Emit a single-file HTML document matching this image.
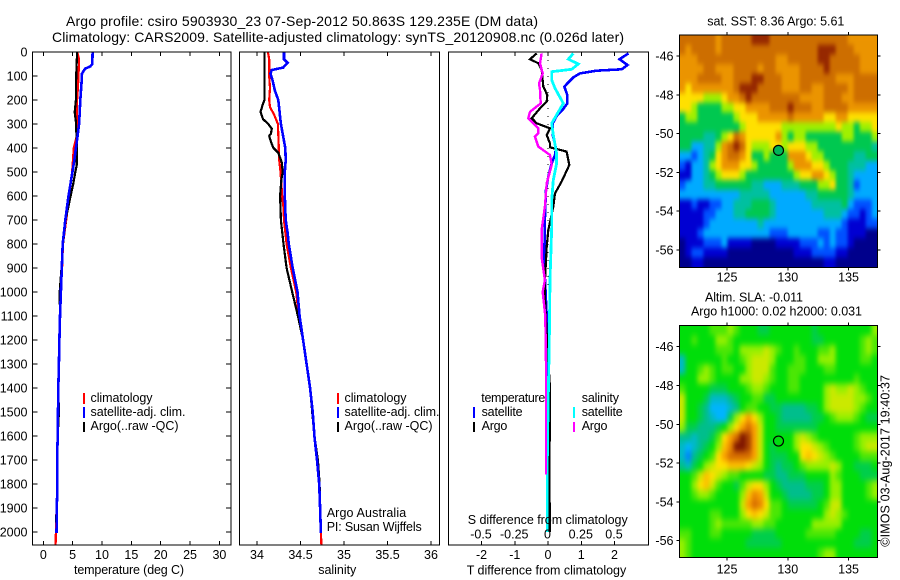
<!DOCTYPE html>
<html lang="en">
<head>
<meta charset="utf-8">
<title>Argo profile csiro 5903930_23</title>
<style>
html,body{margin:0;padding:0;background:#fff;}
svg{display:block;}
text{font-family:"Liberation Sans",Arial,sans-serif;font-size:12.5px;fill:#000;}
.title{font-size:14px;}
.box{fill:none;stroke:#000;stroke-width:1;shape-rendering:crispEdges;}
.tick{stroke:#000;stroke-width:1;shape-rendering:crispEdges;}
.mark{fill:none;stroke-linejoin:miter;shape-rendering:crispEdges;}
.key{shape-rendering:crispEdges;}
</style>
</head>
<body>
<svg id="chart" xmlns="http://www.w3.org/2000/svg" width="900" height="580" viewBox="0 0 900 580">
  <defs>
    <filter id="sstSoft" filterUnits="userSpaceOnUse" x="679" y="35" width="199" height="233" color-interpolation-filters="sRGB">
      <feGaussianBlur stdDeviation="1.6 2.6"/>
      <feComponentTransfer><feFuncA type="linear" slope="60"/></feComponentTransfer>
    </filter>
    <filter id="slaSoft" filterUnits="userSpaceOnUse" x="679" y="325" width="199" height="233" color-interpolation-filters="sRGB">
      <feGaussianBlur stdDeviation="2 3.2"/>
      <feComponentTransfer><feFuncA type="linear" slope="60"/></feComponentTransfer>
    </filter>
  </defs>
  <text class="title" x="66" y="26" textLength="472">Argo profile: csiro 5903930_23 07-Sep-2012 50.863S 129.235E (DM data)</text>
  <text class="title" x="52" y="42" textLength="572">Climatology: CARS2009. Satellite-adjusted climatology: synTS_20120908.nc (0.026d later)</text>

  <g id="heatmaps"></g>
  <g id="marks"></g>
  <g id="axes"></g>

  <text x="74" y="574" textLength="110">temperature (deg C)</text>
  <text x="318.3" y="574" textLength="38">salinity</text>
  <text x="466.7" y="574.5" textLength="159.5">T difference from climatology</text>
  <text x="467.7" y="524" textLength="160">S difference from climatology</text>

  <g>
    <rect class="key" x="83" y="393" width="2" height="11" fill="#f00"/>
    <rect class="key" x="83" y="407" width="2" height="11" fill="#00f"/>
    <rect class="key" x="83" y="422" width="2" height="10" fill="#000"/>
    <text x="90.5" y="402" textLength="62">climatology</text>
    <text x="90.5" y="416" textLength="95">satellite-adj. clim.</text>
    <text x="90.5" y="430" textLength="88">Argo(..raw -QC)</text>
  </g>
  <g>
    <rect class="key" x="337" y="393" width="2" height="11" fill="#f00"/>
    <rect class="key" x="337" y="407" width="2" height="11" fill="#00f"/>
    <rect class="key" x="337" y="422" width="2" height="10" fill="#000"/>
    <text x="344.5" y="402" textLength="62">climatology</text>
    <text x="344.5" y="416" textLength="95">satellite-adj. clim.</text>
    <text x="344.5" y="430" textLength="88">Argo(..raw -QC)</text>
    <text x="326.7" y="517" textLength="79.5">Argo Australia</text>
    <text x="326.7" y="531" textLength="95">PI: Susan Wijffels</text>
  </g>
  <g>
    <text x="481.3" y="402" textLength="64">temperature</text>
    <rect class="key" x="473" y="407" width="2" height="11" fill="#00f"/>
    <text x="481.6" y="416" textLength="41">satellite</text>
    <rect class="key" x="473" y="422" width="2" height="10" fill="#000"/>
    <text x="481.6" y="430" textLength="25.7">Argo</text>
    <text x="581.7" y="402" textLength="37.3">salinity</text>
    <rect class="key" x="573" y="407" width="2" height="11" fill="#0ff"/>
    <text x="581.7" y="416" textLength="41">satellite</text>
    <rect class="key" x="573" y="422" width="2" height="10" fill="#f0f"/>
    <text x="581.7" y="430" textLength="25.7">Argo</text>
  </g>

  <text x="707.3" y="25.5" textLength="137">sat. SST: 8.36 Argo: 5.61</text>
  <text x="705" y="301.5" textLength="98">Altim. SLA: -0.011</text>
  <text x="691" y="315.5" textLength="171">Argo h1000: 0.02 h2000: 0.031</text>
  <text transform="translate(889.3 546.7) rotate(-90)" textLength="171.7">©IMOS 03-Aug-2017 19:40:37</text>
</svg>

<script>
// ---- axis ticks ----
const depthTicks = [0,100,200,300,400,500,600,700,800,900,1000,1100,1200,1300,1400,1500,1600,1700,1800,1900,2000];
const tempTicks = [0,5,10,15,20,25,30];
const salinityTicks = [34,34.5,35,35.5,36];
const salinityTickLabels = ['34','34.5','35','35.5','36'];
const tDiffTicks = [-2,-1,0,1,2];
const sDiffTicks = [-0.5,-0.25,0,0.25,0.5];
const sDiffTickLabels = ['-0.5','-0.25','0','0.25','0.5'];
const mapLonTicks = [125,130,135];
const mapLatTicks = [-46,-48,-50,-52,-54,-56];

// ---- temperature profiles (depth m, deg C) ----
const tempClimDepth = [0,30,100,150,200,280,350,400,500,600,700,800,900,1000,1100,1200,1300,1400,1500,1600,1700,1800,1900,2000,2054];
const tempClimValue = [5.8,6.1,6.0,5.9,5.75,5.7,5.7,5.2,4.9,4.4,3.9,3.35,3.2,2.9,2.85,2.75,2.65,2.55,2.6,2.45,2.35,2.4,2.25,2.15,2.1];
const tempArgoDepth = [0,100,200,250,290,350,410,470,500,550,600,700,800,900,1000,1100,1200,1300,1400,1500,1600,1700,1800,1900,1960];
const tempArgoValue = [5.75,5.6,5.55,5.35,5.55,5.65,5.7,5.7,5.45,5.1,4.65,3.8,3.35,3.1,2.8,2.85,2.75,2.65,2.55,2.65,2.45,2.35,2.4,2.25,2.2];
const tempSatDepth = [0,50,60,70,90,130,200,300,350,400,450,500,600,700,800,900,1000,1100,1200,1300,1400,1500,1600,1700,1800,1900,2005];
const tempSatValue = [8.4,8.35,8.0,7.1,6.6,6.5,6.3,6.1,5.85,5.55,5.3,4.95,4.3,3.75,3.3,3.15,3.0,2.85,2.75,2.65,2.55,2.5,2.45,2.35,2.4,2.3,2.25];

// ---- salinity profiles (depth m, psu) ----
const salClimDepth = [0,30,100,150,200,230,260,300,400,450,500,600,650,700,800,900,1000,1100,1200,1300,1400,1500,1600,1700,1800,1900,2000,2054];
const salClimValue = [34.125,34.14,34.14,34.15,34.14,34.15,34.195,34.24,34.25,34.255,34.27,34.29,34.305,34.31,34.34,34.39,34.45,34.48,34.53,34.57,34.61,34.64,34.66,34.69,34.715,34.725,34.735,34.74];
const salArgoDepth = [0,200,220,250,280,300,320,340,350,380,400,420,460,500,530,600,700,800,900,1000,1100,1200,1300,1400,1500,1600,1700,1800,1900,1960];
const salArgoValue = [34.085,34.085,34.065,34.04,34.07,34.13,34.17,34.16,34.14,34.165,34.19,34.245,34.285,34.295,34.28,34.265,34.275,34.305,34.34,34.405,34.47,34.53,34.57,34.61,34.635,34.66,34.7,34.72,34.725,34.73];
const salSatDepth = [0,30,45,65,75,90,120,160,200,300,350,400,450,500,600,700,750,800,900,1000,1100,1200,1300,1400,1500,1600,1700,1800,1900,2005];
const salSatValue = [34.31,34.31,34.35,34.3,34.17,34.155,34.18,34.205,34.245,34.275,34.3,34.325,34.33,34.32,34.32,34.33,34.35,34.365,34.41,34.465,34.49,34.53,34.57,34.61,34.64,34.66,34.69,34.715,34.725,34.735];

// ---- difference profiles ----
const tDiffSatDepth = [6,30,54,72,78,89,106,144,179,214,237,262,297,346,401,429,464,519,575,672,783,853,950,1100,1400,2000];
const tDiffSatValue = [2.42,2.15,2.39,2.22,1.46,0.96,0.76,0.49,0.58,0.58,0.46,0.28,0.14,0.14,0.24,0.21,0.11,0.01,-0.06,-0.09,-0.10,-0.12,-0.09,-0.04,0,0.05];
const tDiffArgoDepth = [6,30,47,75,144,179,207,235,276,297,318,346,381,397,415,471,540,589,644,742,811,950,1000,1200,1400,1550,1700,1900,2000];
const tDiffArgoValue = [-0.34,-0.54,-0.29,-0.19,-0.14,-0.02,-0.04,-0.24,-0.49,-0.34,0.06,-0.04,0.06,0.06,0.56,0.64,0.41,0.21,0.16,0.01,-0.04,-0.09,-0.1,-0.03,0.06,0.06,0.04,0.05,0.05];
const sDiffSatDepth = [6,30,50,72,82,117,151,214,249,297,346,422,464,533,617,728,811,950,1200,1500,1700,2000];
const sDiffSatValue = [0.19,0.153,0.228,0.178,0.028,0.028,0.053,0.115,0.078,0.028,0.04,0.065,0.065,0.04,0.028,0.028,0.023,0.015,0.01,0,-0.005,-0.005];
const sDiffArgoDepth = [6,47,89,131,158,214,249,276,318,339,353,394,429,471,547,644,742,853,950,1000,1100,1300,1700,1760];
const sDiffArgoValue = [-0.048,-0.06,-0.04,-0.068,-0.06,-0.055,-0.135,-0.148,-0.073,-0.073,-0.098,-0.073,0.015,0.028,-0.01,-0.023,-0.048,-0.048,-0.023,-0.04,-0.02,-0.015,-0.015,-0.015];
const zeroLineDepth = [0,1000];
const zeroLineValue = [0,0];

// ---- map grids (colour-scale level per 0.5 degree cell, north to south) ----
const sstRows = [
[9,9,9,9,9,9,8,9,9,9,9,9,10,10,10,9,9,9,9,9,9,9,9,9,9,9,9,9,8,8,8,8,8],
[9,8,9,9,9,9,8,9,9,9,9,9,9,9,9,9,9,9,9,9,9,9,9,10,10,10,9,9,9,8,8,8,8],
[8,8,8,9,9,9,9,9,9,9,9,9,9,9,9,9,8,8,9,9,9,9,9,10,10,9,9,9,9,9,8,8,8],
[8,8,8,8,9,9,8,8,8,9,9,9,9,8,9,9,8,8,8,8,9,9,9,9,10,9,9,9,9,9,8,8,8],
[8,8,8,9,9,9,9,8,8,9,9,9,10,10,9,9,9,8,8,8,9,9,9,9,9,9,8,8,8,9,9,9,9],
[8,7,8,8,8,8,8,8,8,9,10,10,10,9,9,9,9,8,8,8,9,9,8,8,9,9,9,9,8,9,9,9,9],
[7,7,7,7,6,6,6,7,8,8,9,10,9,9,9,9,9,9,9,9,8,8,8,8,9,9,9,8,8,9,9,9,9],
[7,7,6,5,5,5,5,6,6,7,7,8,8,8,8,9,9,9,10,9,9,9,8,8,9,9,9,9,8,8,8,8,8],
[5,6,6,5,5,5,5,5,5,6,7,7,7,8,8,8,8,8,9,8,8,8,8,8,7,7,8,8,7,7,7,7,7],
[5,5,5,5,5,5,5,5,5,5,6,7,7,7,7,7,7,6,6,6,6,6,6,6,6,6,7,6,6,5,6,6,7],
[5,5,5,5,4,4,5,6,7,9,8,7,7,7,7,7,8,6,5,6,6,5,5,5,5,5,5,6,6,5,5,5,6],
[5,5,3,3,4,4,6,8,9,10,9,7,6,6,6,7,7,6,7,7,7,6,6,5,5,5,5,5,5,5,5,5,4],
[3,3,2,3,4,5,7,8,9,9,8,7,5,5,6,5,5,5,8,8,8,7,6,6,5,5,5,5,5,4,4,5,5],
[2,1,3,3,4,6,7,8,8,8,7,7,6,5,5,5,5,5,6,8,8,8,7,7,6,5,5,5,4,4,4,3,3],
[1,1,3,3,4,5,6,7,7,7,6,5,5,5,5,5,5,5,5,6,7,7,8,8,7,6,5,5,4,3,3,3,3],
[2,3,3,3,4,4,5,5,5,5,5,5,4,4,3,3,3,4,4,4,5,5,5,6,6,7,5,5,4,2,3,3,3],
[3,3,3,3,3,3,3,3,3,3,4,4,4,4,4,3,3,3,3,3,3,4,4,5,5,5,5,5,4,3,3,3,3],
[1,1,2,1,1,2,2,3,3,4,4,4,5,5,5,4,3,3,3,3,3,3,4,4,4,4,4,5,3,2,2,2,3],
[1,1,1,1,2,2,3,3,3,4,4,5,5,5,5,4,3,3,3,3,3,3,3,3,4,4,4,3,2,2,1,2,3],
[1,1,1,1,2,3,3,3,3,3,3,3,3,4,3,3,3,3,3,3,3,3,3,3,3,3,3,2,1,1,1,2,2],
[1,1,1,2,3,3,3,3,3,3,3,3,3,3,3,2,2,2,3,3,3,3,3,2,2,3,2,2,1,1,1,0,0],
[0,1,1,1,2,2,2,3,1,1,1,1,0,0,0,0,1,1,1,1,2,2,2,3,2,3,2,2,1,0,0,0,0],
[0,1,2,2,1,1,1,1,0,0,0,0,0,0,0,0,0,0,0,1,1,1,2,2,2,2,1,1,0,0,0,0,0],
[0,0,1,1,0,0,0,0,0,0,0,0,0,0,0,0,0,0,0,0,0,0,0,0,1,1,0,0,0,0,0,0,0]
];
const slaRows = [
[5,5,5,5,5,5.5,5.5,5.5,6,5.5,5,5,5,4.5,4.5,5,5,5,5,5,5,5,4.5,5,5,5,5,5,5,5,5,5,6],
[5,5,5.5,5,5,5,6,6,5.5,5,5,5,5,5,5,5,5,5,5,5,5,5,4.5,4.5,5,5,5,5,5,5,5.5,6,5.5],
[5,5,5,5,5,5,5.5,5.5,5.5,5,6,6,6,6,6.5,6,5.5,5,5,5.5,5,5,5,5.5,5.5,6,5,5,5,5,5.5,6,5.5],
[3.5,5,5,5,5,5,5,5.5,5,5,5.5,6,6.5,6.5,6.5,6,5,5,5,5.5,5.5,5,5,6,6,6,5,5,5,5,5.5,5.5,5],
[3.5,5,5,5.5,6,5.5,5,5.5,5.5,5,5,6,6.5,6.5,6.5,5.5,5,5,5.5,5.5,5.5,5,5,5,5.5,5.5,5,5,5,5,5,5,5],
[5,5,5,6,6,5.5,5,5,5,5,6,6,6.5,6.5,6,5.5,5,5,5.5,5.5,5,5,5,5,5,5,5,5,5,5.5,5,5,5],
[5.5,5,5,5,5,4.5,4.5,4.5,5,5,5,5.5,6,6,5.5,5,5,5,5.5,5.5,5,5,5,5,6,6.5,6,6,6.5,6,5.5,5,5],
[6.5,5,5,5,4.5,3.5,3.5,3.5,4,4.5,5,5,5.5,5.5,4.5,4.5,5,5,5,5,5,5,5,5,6,6.5,6.5,6.5,6.5,6,6,5.5,5],
[6.5,5,5,4.5,4,3,3,3,3.5,4,5,5.5,5.5,5,5,4.5,4.5,4,4,4,4,4.5,4.5,5,6,6.5,6.5,6.5,6.5,6,5.5,5,5],
[6.5,5,5,4.5,4,3.5,3,3,4.5,6,7,8,7,6,5,5,4.5,4,4,4,4,4,4.5,4.5,5,5.5,6,6,6,5.5,5,4.5,4.5],
[6,4.5,4.5,4,4,4,4.5,5,6,7,8,9,8,6.5,5,5,4.5,4.5,4.5,4.5,4.5,4.5,4.5,5,5,5,5,5,5,5,5,5,5],
[4,4,3.5,4,4,4.5,5.5,7,8,9,10,9.5,8,6.5,5,5,5,5,5,6,6.5,6,5.5,5,5,5,5,5,5,5.5,6,6,6],
[3.5,3,3.5,4,4.5,5,6,7.5,8.5,10,10,9.5,8,6.5,5,4.5,5,5,5,6,7,7,6.5,6,5.5,5,5,5,5,5.5,6,6.5,6.5],
[3.5,2.5,4,4.5,5,5.5,7,8,9,9,9,9,8,6.5,5,4.5,4.5,4.5,5,5,7,7.5,7,6.5,6,5.5,5,5,5,5,5.5,5.5,5.5],
[4,3.5,4.5,5,6,6.5,7,7,7.5,7.5,7.5,7,6.5,6,5,4.5,4,4.5,4.5,5,5.5,6,6,6,6,6.5,6,5,5,4.5,4.5,4.5,5],
[5,5,5.5,6.5,7.5,7,6.5,6,5.5,5.5,5,5,5,5,4.5,4.5,4,4,4.5,4.5,4.5,5,5,5,5,6,5.5,5,5,5,4.5,4.5,4.5],
[5,5,6,7,7.5,6.5,5.5,5,5,4.5,5.5,6.5,7,7,6,5,4.5,4,4,4,4,4.5,4.5,4.5,5,6,6,5,5,5,5,5.5,6],
[5,5,5.5,6,6,5.5,5,5,5,5,6,7.5,8.5,8,6.5,5,5,4.5,4,4,4,4,4.5,4.5,5,6,6,5,5,5,5,5.5,6],
[5,5,5,5,5,5,5,5,5,5,6.5,8,9,8.5,7,5.5,5.5,5,4.5,4.5,4.5,4.5,4.5,5,5.5,6.5,6.5,5,5,5,5,5,5],
[5,5,5,5,5,5.5,5.5,5,5,5,6,7,7.5,7,6.5,5.5,5.5,5,5,5,5,5,5,5,6,6.5,6,5.5,5,5,5,5,5],
[5,5,5,5,5,5.5,6,5.5,5.5,5.5,5.5,5.5,6,6,5.5,5.5,5,5,5,5,5,5,6,6,6,6,6,5,5,5,5,5,5],
[5.5,5.5,5,5,5,5.5,5.5,5,5,5,5,5,4.5,4.5,4.5,4.5,5,5,5,5,5,5.5,5.5,5.5,5.5,5.5,5,5,5,5,4.5,4.5,5],
[6,5.5,5,5,5,5,5,5,5,5,5,4.5,4.5,4.5,4.5,4.5,4.5,5,5,5,5,5,5,5,5,5,5,5,5,4.5,4.5,4.5,5],
[6,5.5,5,5,5,5,5,5,5,5,5,5,5,5,5,5,5,5,5,5,5,5,5,5.5,6,6,5,5,5,5,5,5,5]
];
const argoLon = 129.235;
const argoLat = -50.863;
const sstColourStops = ['#00008c','#0000d2','#0050ff','#00aaff','#00c0a0','#00c850','#a0f000','#ffe000','#eb9400','#cd6e00','#962800'];
const slaColourStops = ['#00008c','#0000d7','#0050ff','#00b4ff','#00be8c','#00de0a','#96f000','#ffe100','#faa000','#d76e00','#7d1400'];

// ---- axis functions ----
const NS = 'http://www.w3.org/2000/svg';
const plotTop = 52, plotBottom = 545;
function depthY(d){ return plotTop + 0.24 * d; }
function tempX(t){ return 43.3 + 5.87 * t; }
function salX(s){ return 257 + 87 * (s - 34); }
function tDiffX(t){ return 548 + 33.25 * t; }
function sDiffX(s){ return 548 + 133 * s; }
const mapLeft = 679.5, mapRight = 877.5;
function mapX(lon){ return 727 + 12.16 * (lon - 125); }
function sstY(lat){ return 56 - 19.4 * (lat + 46); }
function slaY(lat){ return 346.7 - 19.4 * (lat + 46); }
const gridLonStart = 121.08, gridLonStep = 0.4945, gridLatStart = -44.92, gridLatStep = -0.4985;

const axesG = document.getElementById('axes');
const marksG = document.getElementById('marks');
const heatG = document.getElementById('heatmaps');

function make(parent, tag, attrs){
  const el = document.createElementNS(NS, tag);
  for (const k in attrs) el.setAttribute(k, attrs[k]);
  parent.appendChild(el);
  return el;
}
function tickLine(x1, y1, x2, y2, name){
  const el = make(axesG, 'line', {x1:x1, y1:y1, x2:x2, y2:y2, class:'tick'});
  
  
}
function tickLabel(x, y, anchor, str, name){
  const el = make(axesG, 'text', {x:x, y:y, 'text-anchor':anchor});
  el.textContent = str;
  
  
}
function frame(x, y, w, h, name){
  const el = make(axesG, 'rect', {x:x, y:y, width:w, height:h, class:'box'});
  
  
}
function drawSeries(xFn, depths, values, colour, width, name){
  const pts = depths.map(function(d, i){ return xFn(values[i]).toFixed(1) + ',' + depthY(d).toFixed(1); }).join(' ');
  const el = make(marksG, 'polyline', {points:pts, class:'mark', stroke:colour, 'stroke-width':width});
  
  
  return el;
}
function hexToRgb(h){ return [parseInt(h.substr(1,2),16), parseInt(h.substr(3,2),16), parseInt(h.substr(5,2),16)]; }
function levelColour(v, stops){
  const lo = Math.max(0, Math.min(stops.length - 1, Math.floor(v)));
  const hi = Math.min(stops.length - 1, lo + 1);
  const f = v - lo, a = hexToRgb(stops[lo]), b = hexToRgb(stops[hi]);
  return 'rgb(' + [0,1,2].map(function(i){ return Math.round(a[i] + (b[i] - a[i]) * f); }).join(',') + ')';
}
function drawGrid(rows, yFn, stops, filterId, name){
  const g = make(heatG, 'g', {filter:'url(#' + filterId + ')'});
  
  
  rows.forEach(function(row, r){
    row.forEach(function(v, c){
      const x0 = mapX(gridLonStart + c * gridLonStep), x1 = mapX(gridLonStart + (c + 1) * gridLonStep);
      const y0 = yFn(gridLatStart + r * gridLatStep), y1 = yFn(gridLatStart + (r + 1) * gridLatStep);
      const cell = make(g, 'rect', {x:x0.toFixed(2), y:y0.toFixed(2), width:(x1 - x0 + 0.6).toFixed(2), height:(y1 - y0 + 0.6).toFixed(2), fill:levelColour(v, stops)});
      
      
    });
  });
}

// ---- heatmaps ----
drawGrid(sstRows, sstY, sstColourStops, 'sstSoft', 'sst-heatmap');
drawGrid(slaRows, slaY, slaColourStops, 'slaSoft', 'sla-heatmap');

// ---- profile series ----
drawSeries(tempX, tempClimDepth, tempClimValue, '#f00', 2.2, 'temperature-climatology-line');
drawSeries(tempX, tempArgoDepth, tempArgoValue, '#000', 2.2, 'temperature-argo-line');
drawSeries(tempX, tempSatDepth, tempSatValue, '#00f', 2.6, 'temperature-satellite-line');
drawSeries(salX, salClimDepth, salClimValue, '#f00', 2.2, 'salinity-climatology-line');
drawSeries(salX, salArgoDepth, salArgoValue, '#000', 2.2, 'salinity-argo-line');
drawSeries(salX, salSatDepth, salSatValue, '#00f', 2.6, 'salinity-satellite-line');
const zeroLine = drawSeries(tDiffX, zeroLineDepth, zeroLineValue, '#000', 1, 'zero-difference-line');
zeroLine.setAttribute('stroke-dasharray', '1 7');
drawSeries(tDiffX, tDiffSatDepth, tDiffSatValue, '#00f', 2.6, 't-difference-satellite-line');
drawSeries(tDiffX, tDiffArgoDepth, tDiffArgoValue, '#000', 2.2, 't-difference-argo-line');
drawSeries(sDiffX, sDiffSatDepth, sDiffSatValue, '#0ff', 2.8, 's-difference-satellite-line');
drawSeries(sDiffX, sDiffArgoDepth, sDiffArgoValue, '#f0f', 2.4, 's-difference-argo-line');

// ---- profile frames and ticks ----
frame(32.5, plotTop, 198.5, plotBottom - plotTop, 'temperature-plot-frame');
frame(239.5, plotTop, 200, plotBottom - plotTop, 'salinity-plot-frame');
frame(448.5, plotTop, 200, plotBottom - plotTop, 'difference-plot-frame');

depthTicks.forEach(function(d){
  const y = depthY(d);
  tickLine(32.5, y, 37.5, y, 'depth-tick-left');
  tickLine(226, y, 231, y, 'depth-tick-right');
  tickLabel(27.5, y + 4.5, 'end', String(d), 'depth-tick-label');
});
tempTicks.forEach(function(t){
  const x = tempX(t);
  tickLine(x, plotTop, x, plotTop + 4, 'temperature-tick-top');
  tickLine(x, plotBottom - 4, x, plotBottom, 'temperature-tick-bottom');
  tickLabel(x, 559, 'middle', String(t), 'temperature-tick-label');
});
salinityTicks.forEach(function(s, i){
  const x = salX(s);
  tickLine(x, plotTop, x, plotTop + 4, 'salinity-tick-top');
  tickLine(x, plotBottom - 4, x, plotBottom, 'salinity-tick-bottom');
  tickLabel(x, 559, 'middle', salinityTickLabels[i], 'salinity-tick-label');
});
tDiffTicks.forEach(function(t){
  const x = tDiffX(t);
  tickLine(x, plotTop, x, plotTop + 4, 'difference-tick-top');
  tickLine(x, plotBottom - 4, x, plotBottom, 'difference-tick-bottom');
  tickLabel(x, 559, 'middle', String(t), 't-difference-tick-label');
});
sDiffTicks.forEach(function(s, i){
  tickLabel(sDiffX(s) - 0.5, 538.5, 'middle', sDiffTickLabels[i], 's-difference-tick-label');
});

// ---- map frames, ticks, markers ----
function mapAxes(yFn, top, bottom, labelY, prefix){
  frame(mapLeft, top, mapRight - mapLeft, bottom - top, prefix + '-map-frame');
  mapLonTicks.forEach(function(lon){
    const x = mapX(lon);
    tickLine(x, top - 3, x, top, prefix + '-lon-tick-top');
    tickLine(x, bottom, x, bottom + 3, prefix + '-lon-tick-bottom');
    tickLabel(x, labelY, 'middle', String(lon), prefix + '-lon-tick-label');
  });
  mapLatTicks.forEach(function(lat){
    const y = yFn(lat);
    tickLine(mapLeft - 3, y, mapLeft, y, prefix + '-lat-tick-left');
    tickLine(mapRight, y, mapRight + 3, y, prefix + '-lat-tick-right');
    tickLabel(673.5, y + 4.5, 'end', String(lat), prefix + '-lat-tick-label');
  });
  const m = make(axesG, 'circle', {cx:mapX(argoLon), cy:yFn(argoLat), r:5, fill:'none', stroke:'#000', 'stroke-width':1.2});
  
  
}
const sstDot = make(axesG, 'circle', {cx:mapX(argoLon), cy:sstY(argoLat), r:4.5, fill:'#00b45a'});


mapAxes(sstY, 35, 267.5, 281.5, 'sst');
mapAxes(slaY, 325.5, 557.5, 573.3, 'sla');
</script>
</body>
</html>
